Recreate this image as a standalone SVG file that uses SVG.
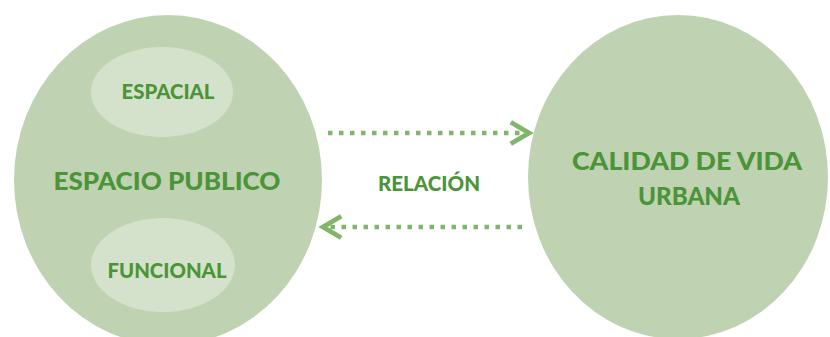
<svg xmlns="http://www.w3.org/2000/svg" width="830" height="337" viewBox="0 0 830 337">
<style>
.big{fill:#bfd2b1}
.inner{fill:#d5e2cb}
.t{font-family:Lato,"Open Sans","Liberation Sans",sans-serif;font-weight:900;fill:#4b9438;text-anchor:middle}
.conn{stroke:#80b56b;stroke-width:4.5;fill:none;stroke-dasharray:4.5 6.5}
</style>
<defs>
<marker id="chev" markerUnits="userSpaceOnUse" markerWidth="30" markerHeight="30" viewBox="-22 -14 26 28" refX="0" refY="0" orient="auto">
<path d="M-17,-10 L0,0 L-17,10" fill="none" stroke="#80b56b" stroke-width="4.5" stroke-linejoin="miter"/>
</marker>
</defs>
<rect width="830" height="337" fill="#ffffff"/>
<g id="espacio-publico">
<ellipse class="big" cx="168" cy="180" rx="154" ry="165"/>
<text class="t" x="167" y="190" font-size="24" textLength="227" lengthAdjust="spacingAndGlyphs">ESPACIO PUBLICO</text>
</g>
<g id="espacial">
<ellipse class="inner" cx="162" cy="92" rx="71" ry="45"/>
<text class="t" x="168" y="99" font-size="21" textLength="93" lengthAdjust="spacingAndGlyphs">ESPACIAL</text>
</g>
<g id="funcional">
<ellipse class="inner" cx="163" cy="265" rx="72" ry="47"/>
<text class="t" x="167" y="278" font-size="21" textLength="119" lengthAdjust="spacingAndGlyphs">FUNCIONAL</text>
</g>
<g id="calidad-de-vida">
<ellipse class="big" cx="678" cy="177" rx="150" ry="162"/>
<text class="t" x="687" y="170" font-size="25" textLength="230" lengthAdjust="spacingAndGlyphs">CALIDAD DE VIDA</text>
<text class="t" x="689" y="205" font-size="25" textLength="102" lengthAdjust="spacingAndGlyphs">URBANA</text>
</g>
<g id="connectors">
<line class="conn" x1="328" y1="133" x2="529" y2="133" marker-end="url(#chev)"/>
<line class="conn" x1="522" y1="227" x2="323" y2="227" marker-end="url(#chev)"/>
<text class="t" x="429" y="191" font-size="21" textLength="102" lengthAdjust="spacingAndGlyphs">RELACIÓN</text>
</g>
</svg>
